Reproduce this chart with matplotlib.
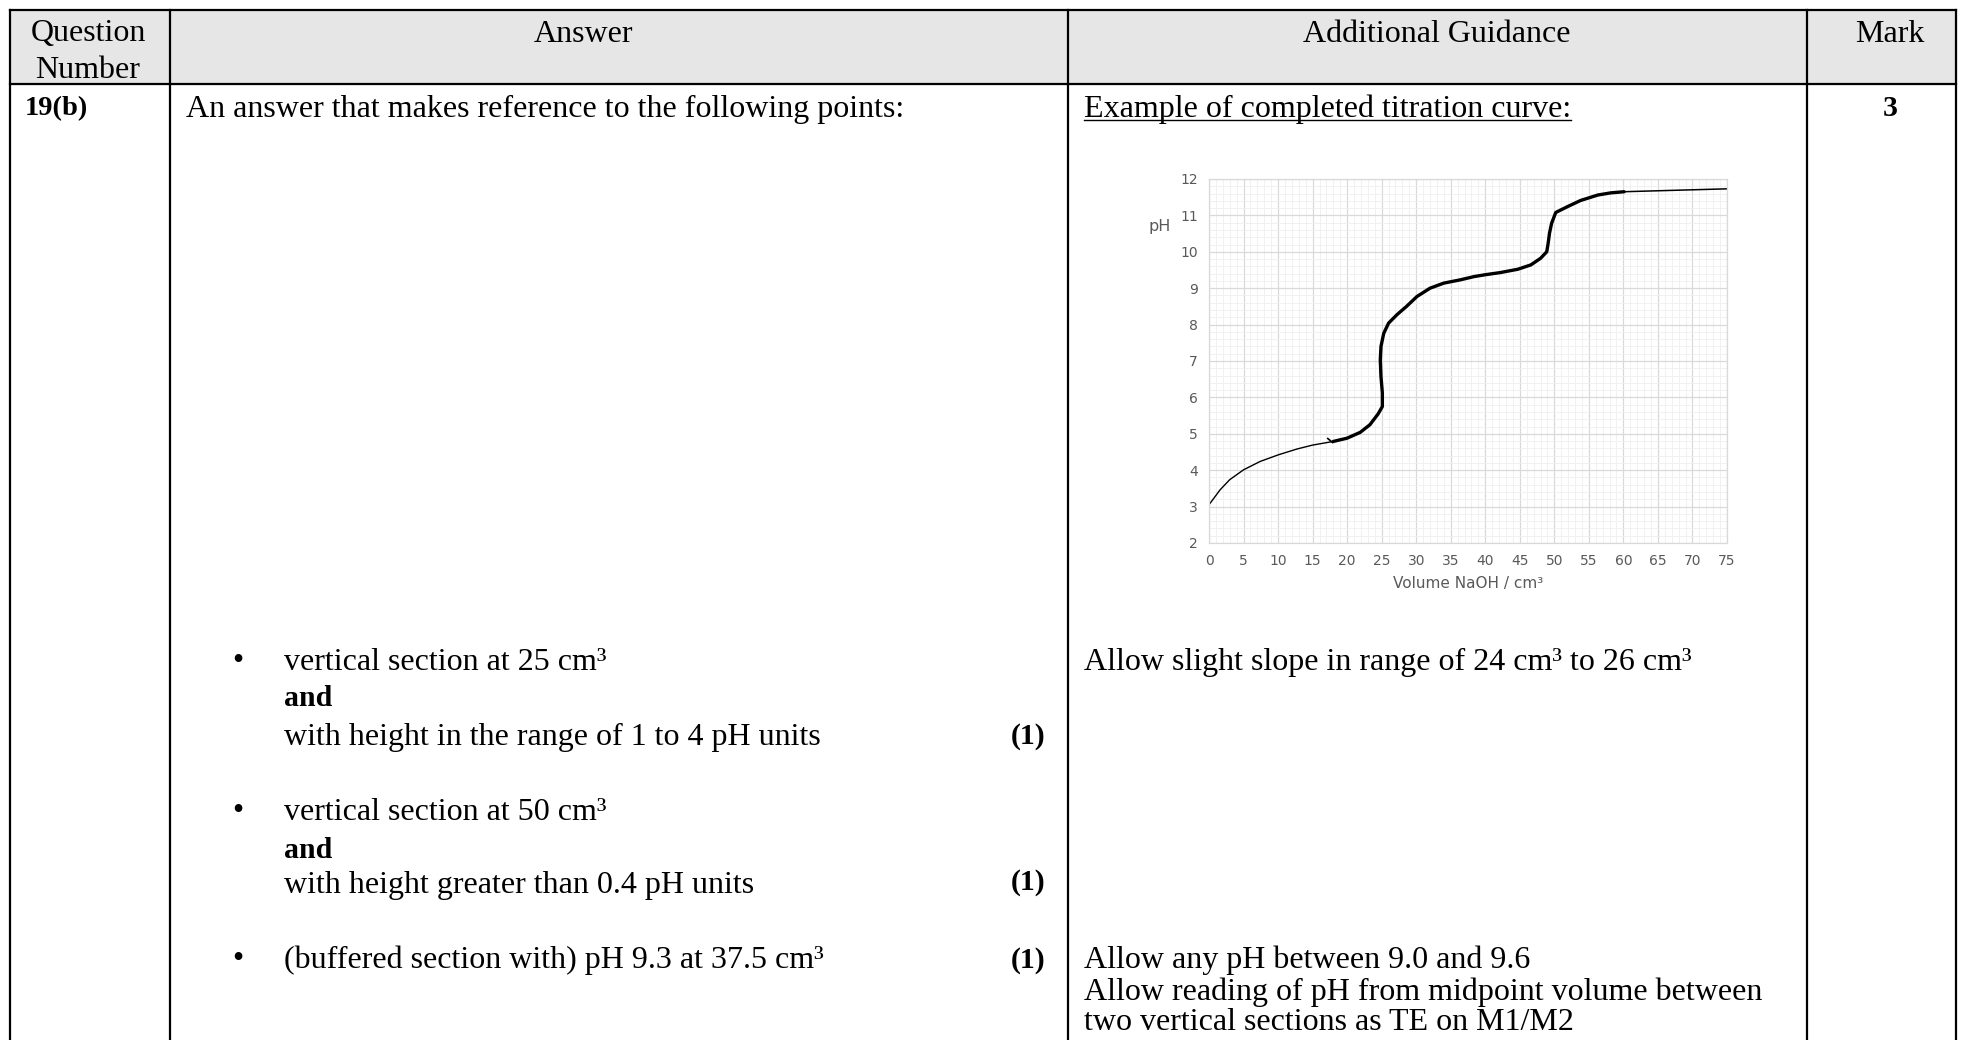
import matplotlib.pyplot as plt
from matplotlib.ticker import MultipleLocator

# curve
vol_start = [0, 1.6, 3.0, 5.0, 7.4, 10.0, 12.7, 15.0, 18.0]
ph_start = [3.05, 3.46, 3.74, 4.01, 4.24, 4.42, 4.58, 4.69, 4.79]
vol_hand = [18.0, 20.0, 21.9, 23.3, 24.5, 25.1, 25.1, 24.9, 24.8, 24.9, 25.3,
            26.0, 27.2, 28.6, 30.1, 32.0, 34.0, 36.4, 38.4, 40.0, 42.2, 44.7,
            46.6, 48.0, 48.9, 49.1, 49.3, 49.6, 50.2, 51.9, 53.8, 56.3, 58.2,
            60.1]
ph_hand = [4.79, 4.88, 5.04, 5.25, 5.55, 5.75, 6.12, 6.57, 7.03, 7.40, 7.76,
           8.04, 8.27, 8.50, 8.77, 9.00, 9.14, 9.23, 9.32, 9.37, 9.43, 9.52,
           9.64, 9.82, 10.00, 10.23, 10.51, 10.78, 11.08, 11.24, 11.41, 11.56,
           11.62, 11.65]
vol_mark = [17.2, 17.9]
ph_mark = [4.87, 4.76]
vol_tail = [60.0, 75.0]
ph_tail = [11.65, 11.73]

x_ticks = list(range(0, 80, 5))
y_ticks = list(range(2, 13))

answer_lines = [
    ("vertical section at 25 cm³", 662, "normal", True),
    ("and", 699, "bold", False),
    ("with height in the range of 1 to 4 pH units", 737, "normal", False),
    ("vertical section at 50 cm³", 812, "normal", True),
    ("and", 850, "bold", False),
    ("with height greater than 0.4 pH units", 886, "normal", False),
    ("(buffered section with) pH 9.3 at 37.5 cm³", 960, "normal", True),
]
mark_rows = [737, 883, 960]

guidance_lines = [
    ("Allow slight slope in range of 24 cm³ to 26 cm³", 662),
    ("Allow any pH between 9.0 and 9.6", 960),
    ("Allow reading of pH from midpoint volume between", 992),
    ("two vertical sections as TE on M1/M2", 1023),
]

W, H = 1963, 1040
fig = plt.figure(figsize=(W / 100, H / 100), dpi=100)
tab = fig.add_axes([0, 0, 1, 1])
tab.set_xlim(0, W)
tab.set_ylim(H, 0)
tab.axis("off")

serif = "Liberation Serif"
fs = 23
fsb = 21.5

# table frame
cols = [10, 170, 1068, 1807, 1956]
top, head_bot = 10, 84
tab.fill_between([cols[0], cols[-1]], top, head_bot, color="#e6e6e6", zorder=0)
for x in cols:
    tab.plot([x, x], [top, H + 5], color="black", lw=1.6)
for y in [top, head_bot]:
    tab.plot([cols[0], cols[-1]], [y, y], color="black", lw=1.6)

# header texts
tab.text(88, 34, "Question", ha="center", va="center", family=serif, fontsize=fs)
tab.text(88, 70, "Number", ha="center", va="center", family=serif, fontsize=fs)
tab.text(583, 34, "Answer", ha="center", va="center", family=serif, fontsize=fs)
tab.text(1437, 34, "Additional Guidance", ha="center", va="center",
         family=serif, fontsize=fs)
tab.text(1890, 34, "Mark", ha="center", va="center", family=serif, fontsize=fs)

# first body row
tab.text(25, 109, "19(b)", ha="left", va="center", family=serif,
         fontsize=20.5, weight="bold")
tab.text(186, 109, "An answer that makes reference to the following points:",
         ha="left", va="center", family=serif, fontsize=fs)
ex = tab.text(1084, 109, "Example of completed titration curve:", ha="left",
              va="center", family=serif, fontsize=fs)
tab.text(1890, 109, "3", ha="center", va="center", family=serif,
         fontsize=fsb, weight="bold")

for txt, y, wt, bullet in answer_lines:
    if bullet:
        tab.text(238, y, "•", ha="center", va="center", family=serif, fontsize=fs)
    tab.text(284, y, txt, ha="left", va="center", family=serif,
             fontsize=fsb if wt == "bold" else fs, weight=wt)
for y in mark_rows:
    tab.text(1046, y, "(1)", ha="right", va="center", family=serif,
             fontsize=fsb, weight="bold")
for txt, y in guidance_lines:
    tab.text(1084, y, txt, ha="left", va="center", family=serif, fontsize=fs)

# underline for the example caption
fig.canvas.draw()
bb = ex.get_window_extent().transformed(tab.transData.inverted())
tab.plot([bb.x0, bb.x1], [120, 120], color="black", lw=1.0)

# embedded titration graph
ax = fig.add_axes([1209 / W, 1 - 543 / H, 518 / W, 364 / H])
ax.plot(vol_start, ph_start, color="black", lw=1.0)
ax.plot(vol_hand, ph_hand, color="black", lw=2.4, solid_capstyle="round")
ax.plot(vol_mark, ph_mark, color="black", lw=1.2)
ax.plot(vol_tail, ph_tail, color="black", lw=1.1)
ax.set_xlim(0, 75)
ax.set_ylim(2, 12)
ax.set_xticks(x_ticks)
ax.set_yticks(y_ticks)
ax.xaxis.set_minor_locator(MultipleLocator(1))
ax.yaxis.set_minor_locator(MultipleLocator(0.2))
ax.grid(which="major", color="#d9d9d9", lw=0.9)
ax.grid(which="minor", color="#efefef", lw=0.6)
ax.set_axisbelow(True)
for s in ax.spines.values():
    s.set_color("#d9d9d9")
    s.set_linewidth(0.9)
ax.tick_params(which="both", length=0, labelsize=10, labelcolor="#595959",
               pad=8)
ax.set_xlabel("Volume NaOH / cm³", fontsize=11, color="#595959", labelpad=6)
fig.text(1160 / W, 1 - 227 / H, "pH", ha="center", va="center",
         fontsize=11.5, color="#595959")

fig.savefig("out.png", dpi=100)
